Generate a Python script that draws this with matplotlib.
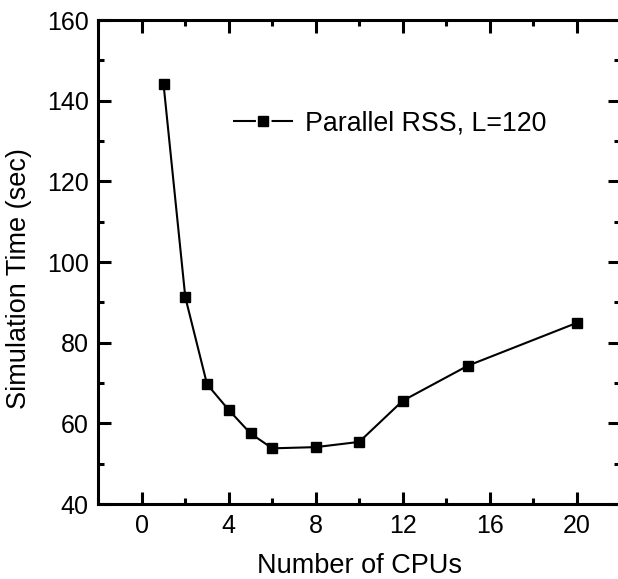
import matplotlib
matplotlib.use("Agg")
import matplotlib.pyplot as plt
from matplotlib.ticker import MultipleLocator

plt.rcParams['font.family'] = ['Liberation Sans', 'DejaVu Sans']

cpus = [1, 2, 3, 4, 5, 6, 8, 10, 12, 15, 20]
sim_time = [144.1, 91.3, 69.7, 63.3, 57.5, 53.8, 54.1, 55.4, 65.6, 74.3, 84.9]
series_label = 'Parallel RSS, L=120'

fig = plt.figure(figsize=(6.18, 5.79), dpi=100)
ax = fig.add_axes([98.3 / 618, 1 - 504 / 579, (620.2 - 98.3) / 618, (504 - 20) / 579])

ax.plot(cpus, sim_time, '-s', color='black', lw=1.5, markersize=7.5, label=series_label)

ax.set_xlim(-2, 22)
ax.set_ylim(40, 160)
ax.xaxis.set_major_locator(MultipleLocator(4))
ax.xaxis.set_minor_locator(MultipleLocator(2))
ax.yaxis.set_major_locator(MultipleLocator(20))
ax.yaxis.set_minor_locator(MultipleLocator(10))

ax.tick_params(which='both', direction='in', top=True, right=True, width=2.2, labelsize=18)
ax.tick_params(which='major', length=9)
ax.tick_params(which='minor', length=4.5)
ax.tick_params(axis='x', which='major', pad=7)
ax.tick_params(axis='y', which='major', pad=7)
for s in ax.spines.values():
    s.set_linewidth(2.2)

ax.set_xlabel('Number of CPUs', fontsize=19.5, labelpad=11)
ax.set_ylabel('Simulation Time (sec)', fontsize=19.5)
ax.yaxis.set_label_coords(-0.127, 0.465)

leg = ax.legend(frameon=False, loc='center left', bbox_to_anchor=(0.237, 0.787),
                borderaxespad=0, fontsize=19.3, handlelength=2.24, handletextpad=0.45)
# line - gap - marker - gap - line, as in the original legend
leg.get_lines()[0].set_linestyle((0, (11, 7.5)))

fig.savefig('out.png', dpi=100)
